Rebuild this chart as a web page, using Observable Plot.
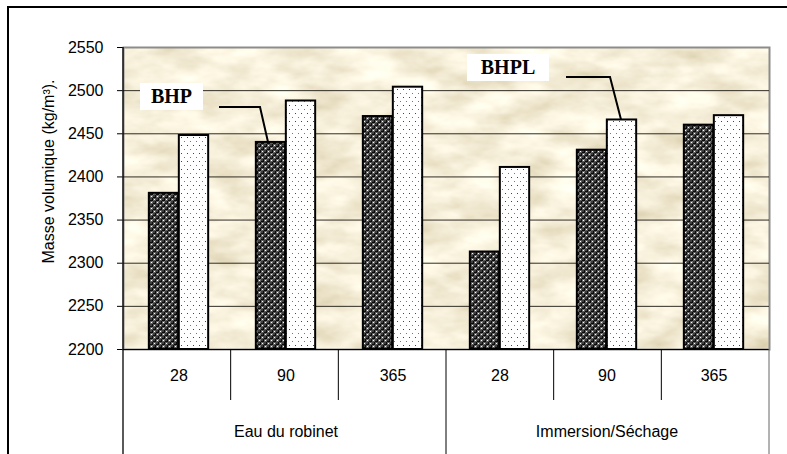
<!DOCTYPE html>
<html>
<head>
<meta charset="utf-8">
<script src="https://cdn.jsdelivr.net/npm/d3@7"></script>
<script src="https://cdn.jsdelivr.net/npm/@observablehq/plot@0.6"></script>
<style>
  html, body { margin: 0; padding: 0; background: #fff; overflow: hidden; }
  #wrap { position: relative; width: 787px; height: 454px; }
  #wrap svg { position: absolute; left: 0; top: 0; }
  #border { position: absolute; left: 7px; top: 6px; width: 820px; height: 500px;
            border-left: 2px solid #000; border-top: 2px solid #000; pointer-events: none; }
</style>
</head>
<body>
<div id="wrap"><div id="border"></div></div>
<script>
// ---- data ----
const conditions = ["Eau du robinet", "Eau du robinet", "Eau du robinet",
                    "Immersion/Séchage", "Immersion/Séchage", "Immersion/Séchage"];
const ages = ["28", "90", "365", "28", "90", "365"];
const series = ["BHP", "BHPL"];
const bhp  = [2381, 2440, 2470, 2313, 2431, 2460];
const bhpl = [2448, 2488, 2504, 2411, 2466, 2471];
const yTicks = [2200, 2250, 2300, 2350, 2400, 2450, 2500, 2550];
const yTitle = "Masse volumique (kg/m³).";

// ---- tables built from the arrays ----
const keys = ages.map((a, i) => conditions[i] + "|" + a);
const rows = [];
keys.forEach((k, i) => {
  rows.push({key: k, age: ages[i], condition: conditions[i], series: series[0], value: bhp[i]});
  rows.push({key: k, age: ages[i], condition: conditions[i], series: series[1], value: bhpl[i]});
});
const condLabels = Array.from(new Set(conditions)).map(c => {
  const ks = keys.filter((k, i) => conditions[i] === c);
  return {key: ks[Math.floor(ks.length / 2)], text: c};
});

// ---- layout ----
const W = 787, H = 454;
const M = {left: 123, right: 18, top: 47, bottom: 105};
const bw = (W - M.left - M.right) / keys.length;
const BAR_W = 30;
const seriesOffset = {BHP: -BAR_W, BHPL: 0}; // left edge relative to band centre
const baseline = yTicks[0];

const barMark = (s, fill) => Plot.barY(rows.filter(d => d.series === s), {
  x: "key", y1: baseline, y2: "value", fill,
  stroke: "#000", strokeWidth: 2,
  insetLeft: bw / 2 + seriesOffset[s],
  insetRight: bw - (bw / 2 + seriesOffset[s]) - BAR_W
});

const chart = Plot.plot({
  width: W, height: H,
  marginLeft: M.left, marginRight: M.right, marginTop: M.top, marginBottom: M.bottom,
  style: {fontFamily: "'Liberation Sans', Arial, sans-serif", fontSize: "16px", background: "transparent", color: "#000"},
  x: {domain: keys, padding: 0, axis: null},
  y: {domain: [yTicks[0], yTicks[yTicks.length - 1]], ticks: 7, tickSize: 6, tickPadding: 14,
      tickFormat: d => String(d), label: null},
  marks: [
    Plot.frame({fill: "url(#paperFill)", stroke: "#8c8c8c", strokeWidth: 2}),
    Plot.ruleY(yTicks.slice(1, -1), {stroke: "#2f2c24", strokeWidth: 1}),
    barMark("BHP", "url(#ballPat)"),
    barMark("BHPL", "url(#dotPat)"),
    Plot.ruleY([baseline], {stroke: "#000", strokeWidth: 1.2}),
    Plot.text(rows.filter(d => d.series === series[0]), {x: "key", text: "age", frameAnchor: "bottom", dy: 31, fontSize: 16}),
    Plot.text(condLabels, {x: "key", text: "text", frameAnchor: "bottom", dy: 87, fontSize: 16}),
    Plot.text([yTitle], {frameAnchor: "left", textAnchor: "middle", dx: -75, dy: -27, rotate: -90, fontSize: 16})
  ]
});

document.getElementById("wrap").insertBefore(chart, document.getElementById("border"));

// ---- defs: textures ----
const svg = d3.select(chart);
const defs = svg.insert("defs", ":first-child");
const f = defs.append("filter").attr("id", "paperNoise").attr("x", 0).attr("y", 0)
  .attr("width", "100%").attr("height", "100%").attr("filterUnits", "userSpaceOnUse");
f.append("feTurbulence").attr("type", "fractalNoise").attr("baseFrequency", "0.02 0.045")
  .attr("numOctaves", 4).attr("seed", 7).attr("result", "n");
f.append("feColorMatrix").attr("in", "n").attr("type", "matrix")
  .attr("values", "0.5 0 0 0 0.67  0.55 0 0 0 0.585  0.65 0 0 0 0.37  0 0 0 0 1");
const pf = defs.append("pattern").attr("id", "paperFill").attr("patternUnits", "userSpaceOnUse")
  .attr("width", W).attr("height", H);
pf.append("rect").attr("width", W).attr("height", H).attr("filter", "url(#paperNoise)");

const bp = defs.append("pattern").attr("id", "ballPat").attr("patternUnits", "userSpaceOnUse")
  .attr("width", 6).attr("height", 6);
bp.append("rect").attr("width", 6).attr("height", 6).attr("fill", "#fff");
[[1.5, 1.5], [4.5, 4.5], [-1.5, 4.5], [7.5, 1.5], [4.5, -1.5], [1.5, 7.5]].forEach(([cx, cy]) => {
  bp.append("circle").attr("cx", cx).attr("cy", cy).attr("r", 2.15).attr("fill", "#0a0a0a");
  bp.append("circle").attr("cx", cx - 0.5).attr("cy", cy - 0.5).attr("r", 0.75).attr("fill", "#8a8a8a");
});

const dp = defs.append("pattern").attr("id", "dotPat").attr("patternUnits", "userSpaceOnUse")
  .attr("width", 6).attr("height", 8);
dp.append("rect").attr("width", 6).attr("height", 8).attr("fill", "#fff");
dp.append("rect").attr("x", 1).attr("y", 1).attr("width", 1).attr("height", 1).attr("fill", "#444");
dp.append("rect").attr("x", 4).attr("y", 5).attr("width", 1).attr("height", 1).attr("fill", "#777");

// ---- scale-derived decorations: category table lines and annotations ----
const xs = chart.scale("x"), ys = chart.scale("y");
const xb = d3.scaleBand(xs.domain, xs.range).paddingInner(xs.paddingInner || 0)
  .paddingOuter(xs.paddingOuter || 0).align(xs.align ?? 0.5);
const y = d3.scaleLinear(ys.domain, ys.range);
const deco = svg.append("g");
const groupSize = 3;
for (let i = 0; i <= keys.length; i++) {
  const x = i < keys.length ? xb(keys[i]) : xb(keys[keys.length - 1]) + xb.bandwidth();
  const long = i % groupSize === 0;
  deco.append("line").attr("x1", x).attr("x2", x)
    .attr("y1", i === 0 ? y(yTicks[yTicks.length - 1]) : y(baseline))
    .attr("y2", long ? H : y(baseline) + 51)
    .attr("stroke", i === keys.length ? "#666" : "#000").attr("stroke-width", i === 0 ? 1.3 : 1);
}

const annotations = [
  {label: "BHP",  key: keys[1], s: "BHP",  elbow: [-9.5, -35],  tail: -50.5, box: [-98, -45.5], bw: 63, bh: 27},
  {label: "BHPL", key: keys[4], s: "BHPL", elbow: [-12.5, -42.5], tail: -56.5, box: [-114.5, -52], bw: 82, bh: 27}
];
annotations.forEach(a => {
  const r = rows.find(d => d.key === a.key && d.series === a.s);
  const bx = xb(a.key) + xb.bandwidth() / 2 + seriesOffset[a.s] + BAR_W / 2;
  const by = y(r.value);
  const ex = bx + a.elbow[0], ey = by + a.elbow[1];
  deco.append("path")
    .attr("d", `M${bx + a.tail},${ey}L${ex},${ey}L${bx - 1.5},${by}`)
    .attr("fill", "none").attr("stroke", "#000").attr("stroke-width", 2);
  const cx = bx + a.box[0], cy = by + a.box[1];
  deco.append("rect").attr("x", cx - a.bw / 2).attr("y", cy - a.bh / 2)
    .attr("width", a.bw).attr("height", a.bh).attr("fill", "#fff");
  deco.append("text").attr("x", cx).attr("y", cy).attr("text-anchor", "middle")
    .attr("dominant-baseline", "central")
    .attr("font-family", "'Liberation Serif', 'Times New Roman', serif")
    .attr("font-weight", "bold").attr("font-size", 20).text(a.label);
});
</script>
</body>
</html>
